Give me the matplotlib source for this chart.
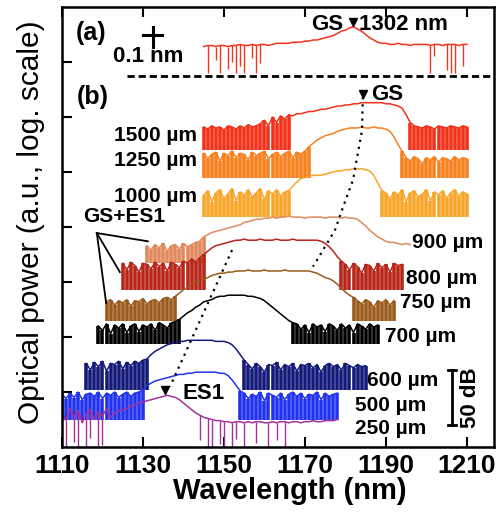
import numpy as np
import matplotlib.pyplot as plt

plt.rcParams['font.family'] = ['Liberation Sans', 'DejaVu Sans']

# --- spectra, one sample per nm; values are dB above each trace's floor ---
# (a) single-mode GS line, shown on the 0.1 nm scale
wl0_a = 1145
floor_a = 340
p_a = [24, 25, 25, 24, 25, 25, 24, 25, 25, 26, 25, 25, 26, 25, 26, 26, 25, 26, 27, 27, 27,
       27, 28, 28, 28, 29, 29, 30, 30, 31, 32, 33, 34, 36, 38, 39, 41, 42,
       40, 38, 35, 32, 30, 28, 27, 27,
       26, 26, 27, 26, 26, 25, 26, 26, 26, 26, 25, 26, 26, 25, 26, 26, 26, 25, 26, 26]
dip_wl_a = [1146, 1148, 1149, 1151, 1152, 1153, 1154, 1155, 1157, 1158, 1159,
            1201, 1202, 1205, 1206, 1207, 1209]
dip_lo_a = [0, 12, 0, 4, 10, 0, 6, 0, 14, 0, 9, 0, 15, 3, 0, 0, 6]

# (b) cavity-length series
wl0_1500 = 1145
floor_1500 = 270
p_1500 = [21, 19, 22, 20, 21, 18, 22, 21, 19, 22, 20, 23, 21, 22, 24,
          27, 22, 30, 25, 31, 28, 32, 31, 33, 33,
          34, 35, 35, 36, 37, 37, 38, 39, 40, 40, 41, 41, 42, 42, 43, 43, 43, 43, 43, 43,
          42, 42, 41, 40, 38, 32, 25, 22,
          21, 20, 22, 21, 19, 22, 21, 20, 22, 21, 20, 22, 21]
noise_1500 = [(1145, 1166), (1196, 1210)]

wl0_1250 = 1145
floor_1250 = 245
p_1250 = [22, 17, 21, 23, 15, 22, 20, 24, 18, 22, 21, 16, 23, 20, 22, 24, 17, 21, 23, 19, 22, 24, 18, 23, 21, 24,
          28, 31, 34, 36, 38, 39, 40, 42, 43, 44, 45,
          45, 45, 46, 45, 45, 46, 45, 45, 44,
          42, 37, 30, 24,
          18, 15, 19, 17, 12, 18, 16, 19, 14, 18, 17, 15, 19, 16, 18, 17]
noise_1250 = [(1145, 1171), (1194, 1210)]

wl0_1000 = 1145
floor_1000 = 209
p_1000 = [20, 24, 14, 22, 25, 17, 21, 26, 15, 23, 20, 25, 18, 22, 26, 16, 24, 21, 25, 19, 23,
          24, 28, 32, 35, 36, 37, 38, 38, 38, 39, 40, 41, 42, 42, 43, 43, 44, 44, 44, 43, 42, 38, 31, 24,
          22, 16, 23, 20, 25, 14, 22, 24, 18, 21, 25, 15, 23, 20, 24, 17, 22, 25, 19, 23, 21]
noise_1000 = [(1145, 1166), (1189, 1210)]

wl0_900 = 1131
floor_900 = 167
p_900 = [16, 12, 17, 14, 18, 11, 16, 17, 13, 18, 15, 17, 19, 20,
         24, 26, 28, 29, 30, 31, 32, 33, 34, 35, 37, 38, 39, 40, 40, 41, 41,
         42, 41, 42, 42, 43, 42, 42, 42, 41, 42, 42, 42, 42, 41, 42, 42, 42, 41, 42, 41, 41,
         40, 37, 34, 30, 27, 24, 22, 20, 19, 19, 18, 17, 18, 17]
noise_900 = [(1131, 1145)]

wl0_800 = 1125
floor_800 = 143
p_800 = [24, 18, 25, 22, 16, 24, 23, 19, 25, 21, 24, 17, 25, 23, 20, 26, 24, 28, 25, 29,
         32, 35, 38, 40, 41, 42, 43, 44,
         45, 45, 46, 45, 45, 45, 46, 45, 45, 45, 46, 45, 45, 45, 46, 45, 45, 45, 45, 45, 45,
         44, 42, 39, 35, 30, 26,
         23, 18, 24, 21, 15, 23, 22, 17, 24, 20, 23, 16, 24, 22, 23]
noise_800 = [(1125, 1145), (1179, 1194)]

wl0_750 = 1121
floor_750 = 115
p_750 = [17, 19, 14, 18, 16, 19, 13, 18, 17, 20, 15, 18, 19, 16, 20, 21, 19,
         22, 25, 28, 30, 33, 35, 36, 38, 39, 41, 42, 43, 43, 44, 44, 45,
         45, 45, 46, 45, 45, 45, 46, 45, 45, 45, 45, 46, 45, 45, 45, 45, 45, 45,
         44, 43, 41, 39, 38, 36, 33, 29, 26, 23, 21,
         18, 15, 19, 17, 12, 18, 16, 19, 14, 18]
noise_750 = [(1121, 1138), (1182, 1192)]

wl0_700 = 1119
floor_700 = 94
p_700 = [16, 12, 18, 9, 17, 14, 18, 10, 16, 18, 11, 17, 15, 18, 12, 19, 17, 14, 19, 20,
         22, 25, 28, 30, 33, 35, 38, 39, 40, 42, 43, 43, 44, 44, 44, 44, 44, 43, 43, 42,
         41, 39, 36, 33, 30, 27, 24, 21, 19,
         18, 13, 17, 10, 18, 15, 17, 11, 18, 16, 12, 18, 14, 17, 10, 18, 16, 13, 18, 15, 17]
noise_700 = [(1119, 1139), (1167, 1188)]

wl0_600 = 1116
floor_600 = 52
p_600 = [24, 18, 25, 21, 26, 17, 24, 23, 26, 19, 25, 22, 26, 24, 27,
         28, 32, 35, 37, 39, 41, 42, 43, 44, 44, 45, 45, 45, 45, 45, 45, 45, 44, 44, 44, 43, 41, 37, 32, 27,
         23, 19, 24, 21, 16, 23, 22, 25, 18, 23, 21, 24, 17, 23, 22, 24, 20, 23, 16, 22,
         24, 21, 23, 18, 24, 22, 20, 23, 21, 22]
noise_600 = [(1116, 1131), (1155, 1185)]

wl0_500 = 1110
floor_500 = 25
p_500 = [23, 19, 24, 20, 25, 18, 23, 24, 21, 25, 19, 24, 22, 25, 20, 23, 25, 21, 24, 25,
         27, 31, 33, 35, 36, 37, 38, 39, 40, 41, 41, 42, 42, 43, 43, 43, 43, 43, 43, 42, 42, 40, 36, 31, 26,
         24, 19, 23, 21, 25, 17, 24, 22, 20, 24, 18, 23, 25, 21, 24, 19, 23, 22, 25, 18, 24, 21, 23, 24]
noise_500 = [(1110, 1130), (1154, 1178)]

wl0_250 = 1110
floor_250 = 0
p_250 = [31, 24, 35, 27, 33, 22, 30, 34, 25, 32, 28, 35, 26, 31, 33,
         34, 35, 37, 38, 40, 41, 42, 43, 44, 45, 46, 47, 46, 45, 43, 40, 37, 34, 31, 29, 27, 26, 25, 24, 24, 23,
         23, 22, 23, 23, 22, 23, 22, 23, 23, 22, 22, 23, 22, 23, 23, 22, 23, 23, 22, 23, 23, 24, 23, 23,
         24, 24, 24, 25]
dip_wl_250 = [1111, 1113, 1114, 1116, 1117, 1119, 1120, 1144, 1146, 1147, 1149, 1150,
              1152, 1153, 1155, 1158, 1161, 1163, 1165]
dip_lo_250 = [0, 5, 0, 0, 8, 0, 2, 6, 0, 0, 3, 0, 0, 7, 0, 4, 0, 6, 0]

# GS / ES1 peak tracks (wavelength nm, dB)
gs_wl = [1184.3, 1184.1, 1181.9, 1179.4, 1177.4, 1172.0]
gs_db = [318, 288, 243, 218, 197, 164]
es1_wl = [1152.0, 1136.7]
es1_db = [179, 55]

scale_db = 50

fig = plt.figure(figsize=(5.04, 5.12), dpi=100)
ax = fig.add_axes([62 / 504, 65 / 512, 432 / 504, 440 / 512])


def draw(wl0, vals, floor, color, noise=(), dip_wl=(), dip_lo=()):
    wl = wl0 + np.arange(len(vals))
    y = floor + np.asarray(vals, float)
    # noise floor: one spike per sample, standing on the floor
    for a, b in noise:
        m = (wl >= a) & (wl <= b)
        ax.vlines(wl[m], floor, y[m], color=color, lw=2.6)
    ax.plot(wl, y, color=color, lw=1.1)
    if len(dip_wl):
        idx = np.asarray(dip_wl) - wl0
        ax.vlines(dip_wl, floor + np.asarray(dip_lo, float), y[idx], color=color, lw=1.0)


draw(wl0_a, p_a, floor_a, '#f5341c', dip_wl=dip_wl_a, dip_lo=dip_lo_a)
draw(wl0_1500, p_1500, floor_1500, '#f0321a', noise_1500)
draw(wl0_1250, p_1250, floor_1250, '#f7801f', noise_1250)
draw(wl0_1000, p_1000, floor_1000, '#f9a52a', noise_1000)
draw(wl0_900, p_900, floor_900, '#e0895c', noise_900)
draw(wl0_800, p_800, floor_800, '#b8261a', noise_800)
draw(wl0_750, p_750, floor_750, '#9a5b1c', noise_750)
draw(wl0_700, p_700, floor_700, 'black', noise_700)
draw(wl0_600, p_600, floor_600, '#141a7a', noise_600)
draw(wl0_500, p_500, floor_500, '#2233ee', noise_500)
draw(wl0_250, p_250, floor_250, '#a2309c', dip_wl=dip_wl_250, dip_lo=dip_lo_250)

# peak guides
ax.plot(gs_wl, gs_db, color='black', ls=(0, (1, 2.2)), lw=1.6)
ax.plot(es1_wl, es1_db, color='black', ls=(0, (1, 2.2)), lw=1.6)
ax.plot([1181.9], [386], 'kv', ms=6)
ax.plot([gs_wl[0]], [gs_db[0] + 3], 'kv', ms=6)
ax.plot([1135.4], [52], 'kv', ms=6)

# panel separator
ax.plot([1126, 1217], [337, 337], color='black', lw=2, dashes=(2.6, 1.4))

bold = dict(fontweight='bold', fontsize=15)
ax.text(1113.5, 376, '(a)', va='center', ha='left', fontweight='bold', fontsize=18)
ax.text(1113.7, 318, '(b)', va='center', ha='left', fontweight='bold', fontsize=18)
ax.text(1122.6, 355, '0.1 nm', va='center', ha='left', fontweight='bold', fontsize=16)
ax.plot([1130, 1134.7], [374.5, 374.5], color='black', lw=2.2)
ax.plot([1132.4, 1132.4], [363.5, 382], color='black', lw=2.2)
ax.text(1179.5, 384, 'GS', va='center', ha='right', fontweight='bold', fontsize=16)
ax.text(1183.3, 384, '1302 nm', va='center', ha='left', fontweight='bold', fontsize=16)
ax.text(1186.3, 320, 'GS', va='center', ha='left', fontweight='bold', fontsize=16)
ax.text(1139.8, 49, 'ES1', va='center', ha='left', fontweight='bold', fontsize=16)

ax.text(1143.3, 283, '1500 µm', va='center', ha='right', **bold)
ax.text(1143.3, 260, '1250 µm', va='center', ha='right', **bold)
ax.text(1143.3, 228, '1000 µm', va='center', ha='right', **bold)
ax.text(1115.2, 210, 'GS+ES1', va='center', ha='left', **bold)
ax.text(1196.5, 186, '900 µm', va='center', ha='left', **bold)
ax.text(1195.0, 153, '800 µm', va='center', ha='left', **bold)
ax.text(1193.5, 131, '750 µm', va='center', ha='left', **bold)
ax.text(1189.8, 100, '700 µm', va='center', ha='left', **bold)
ax.text(1185.4, 60, '600 µm', va='center', ha='left', **bold)
ax.text(1182.3, 38, '500 µm', va='center', ha='left', **bold)
ax.text(1182.3, 17, '250 µm', va='center', ha='left', **bold)

# leader lines from the GS+ES1 label
for x1, y1 in [(1131.2, 187), (1124.3, 159), (1120.9, 131)]:
    ax.plot([1118.6, x1], [194.5, y1], color='black', lw=1.3)

# 50 dB scale bar
ax.plot([1206.3, 1206.3], [20, 20 + scale_db], color='black', lw=2)
ax.plot([1205.3, 1207.3], [20, 20], color='black', lw=2)
ax.plot([1205.3, 1207.3], [20 + scale_db, 20 + scale_db], color='black', lw=2)
ax.text(1211, 20 + scale_db / 2, '%d dB' % scale_db, rotation=90, va='center', ha='center',
        fontweight='bold', fontsize=16)

ax.set_xlim(1110, 1216.7)
ax.set_ylim(0, 400)
ax.set_xticks([1110, 1130, 1150, 1170, 1190, 1210])
ax.set_yticks([50, 100, 150, 200, 250, 300, 350])
ax.set_yticklabels([])
ax.tick_params(axis='x', direction='in', top=True, length=7, width=1.5, labelsize=19, pad=5)
ax.tick_params(axis='y', direction='in', length=7, width=1.5)
for lab in ax.get_xticklabels():
    lab.set_fontweight('bold')
for s in ax.spines.values():
    s.set_linewidth(1.8)

ax.set_xlabel('Wavelength (nm)', fontsize=21, fontweight='bold')
ax.xaxis.set_label_coords(0.528, -0.068)
ax.set_ylabel('Optical power (a.u., log. scale)', fontsize=21.5)
ax.yaxis.set_label_coords(-0.04, 0.51)

fig.savefig('out.png', dpi=100)
